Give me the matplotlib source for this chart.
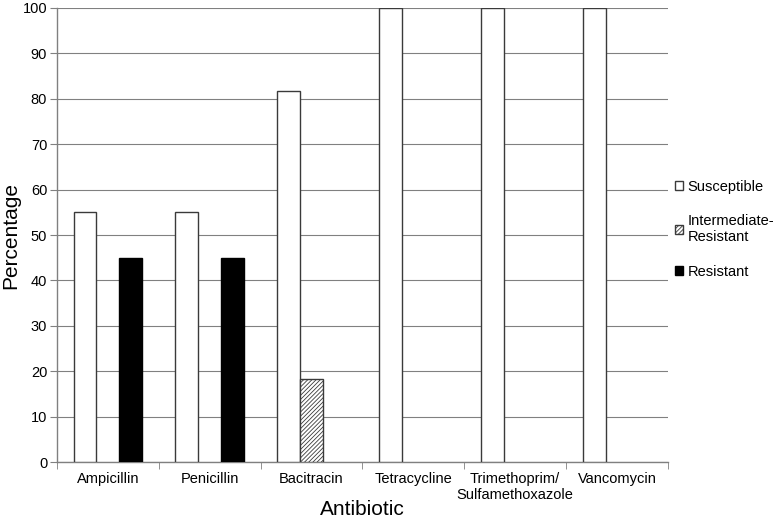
import matplotlib
matplotlib.use("Agg")
import matplotlib.pyplot as plt
import numpy as np

plt.rcParams['font.family'] = ['Liberation Sans', 'DejaVu Sans']
plt.rcParams['hatch.linewidth'] = 0.6

categories = ["Ampicillin", "Penicillin", "Bacitracin", "Tetracycline",
              "Trimethoprim/\nSulfamethoxazole", "Vancomycin"]
susceptible = [55, 55, 81.8, 100, 100, 100]
intermediate = [0, 0, 18.2, 0, 0, 0]
resistant = [45, 45, 0, 0, 0, 0]
yticks = list(range(0, 101, 10))


def nz(v):
    a = np.asarray(v, dtype=float)
    return np.where(a > 0, a, np.nan)


fig = plt.figure(figsize=(7.74, 5.19), dpi=100)
ax = fig.add_axes([0.0736, 0.1098, 0.7894, 0.8748])

x = np.arange(len(categories))
w = 0.225
edge = '#3a3a3a'
ax.bar(x - w, nz(susceptible), w, facecolor='white', edgecolor=edge, linewidth=1.0,
       label='Susceptible', zorder=3)
ax.bar(x, nz(intermediate), w, facecolor='white', edgecolor=edge, linewidth=1.0,
       hatch='////////', label='Intermediate-\nResistant', zorder=3)
ax.bar(x + w, nz(resistant), w, facecolor='black', edgecolor='black', linewidth=1.0,
       label='Resistant', zorder=3)

ax.set_xlim(-0.5, len(categories) - 0.5)
ax.set_ylim(0, 100)
ax.set_yticks(yticks)
ax.yaxis.grid(True, color='#808080', linewidth=0.8, zorder=0)
ax.set_axisbelow(True)

ax.set_xticks(x)
ax.set_xticklabels(categories, fontsize=10.5)
ax.tick_params(axis='x', length=0, pad=7)
ax.set_xticks(np.arange(-0.5, len(categories)), minor=True)
ax.tick_params(axis='x', which='minor', length=5, direction='out', color='#808080')
ax.tick_params(axis='y', labelsize=10.5, length=5, direction='out', color='#808080', pad=2)

for s in ['top', 'right']:
    ax.spines[s].set_visible(False)
for s in ['left', 'bottom']:
    ax.spines[s].set_color('#808080')
    ax.spines[s].set_linewidth(1.0)

ax.set_ylabel('Percentage', fontsize=15)
ax.yaxis.set_label_coords(-0.06, 0.5)
ax.set_xlabel('Antibiotic', fontsize=15)
ax.xaxis.set_label_coords(0.5, -0.083)

leg = fig.legend(loc='upper left', bbox_to_anchor=(0.864, 0.665), frameon=False,
                 fontsize=10.5, handlelength=0.6, handleheight=0.6, handletextpad=0.3,
                 labelspacing=1.4, borderaxespad=0)

fig.savefig('out.png', dpi=100)
